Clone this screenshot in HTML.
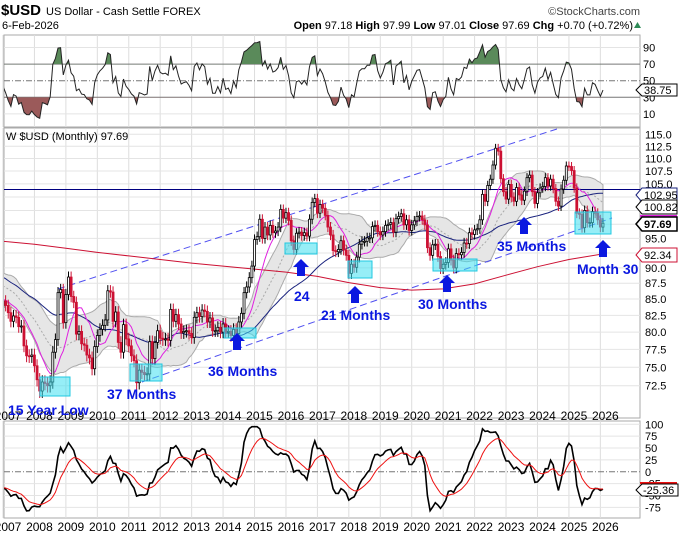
<!DOCTYPE html>
<html><head><meta charset="utf-8">
<style>
html,body{margin:0;padding:0;background:#fff;}
body{width:681px;height:548px;overflow:hidden;font-family:"Liberation Sans",sans-serif;}
svg{display:block;}
</style></head>
<body>
<svg id="chart" width="681" height="548" xmlns="http://www.w3.org/2000/svg" font-family="Liberation Sans, sans-serif"></svg>
<script>
// ---- data (monthly closes) ----
const history = [96.5,96.0,97.6,96.2,94.0,94.5,95.3,98.5,93.5,92.0,91.0,86.9,
87.4,88.9,88.8,91.2,89.0,88.8,89.9,89.0,87.5,84.7,81.0,80.9,
83.5,82.5,84.3,84.4,88.0,89.1,88.0,86.8,88.3,89.4,91.5,90.3,
89.6,89.7,89.2,85.7,85.2,85.4,85.2,85.4,85.7,85.4,83.4,83.7];
const closes = [84.7,84.0,82.9,81.6,82.4,82.2,80.8,80.9,78.0,76.6,76.5,76.7,
75.2,73.3,71.8,73.0,72.8,72.5,73.0,77.1,78.9,86.0,86.5,81.4,
85.7,88.5,85.4,84.5,79.7,80.1,78.3,78.1,76.7,76.3,74.8,77.9,
79.5,80.4,81.0,81.8,86.3,86.1,81.6,83.0,78.5,77.1,81.1,79.0,
78.0,76.6,75.9,72.9,74.6,74.3,74.0,74.1,78.6,76.2,78.5,80.2,
79.1,78.9,79.0,78.8,83.4,81.6,82.6,81.2,79.9,80.1,80.2,79.8,
79.2,82.2,82.9,82.3,83.3,83.1,81.5,82.1,80.2,80.2,80.7,80.0,
81.2,80.0,80.1,79.5,80.4,79.8,81.5,82.8,86.0,86.9,88.4,90.3,
94.8,95.3,98.4,95.0,97.0,95.6,97.3,96.0,96.3,97.0,100.2,98.6,
99.6,98.2,94.6,93.1,95.9,96.1,95.5,96.0,95.4,98.4,101.5,102.2,
99.5,101.1,100.4,99.1,97.0,95.6,92.9,92.7,93.1,94.6,93.0,92.1,
89.1,90.6,90.1,91.8,94.0,94.5,94.5,95.1,95.1,97.1,97.3,96.2,
95.6,96.2,97.3,97.5,97.8,96.1,98.5,98.9,99.4,97.4,98.3,96.4,
97.4,98.1,98.9,99.0,98.3,97.4,93.4,92.1,93.9,94.0,91.9,89.9,
90.6,90.9,93.2,91.3,90.0,92.4,92.2,92.6,94.2,94.1,96.0,95.7,
96.5,96.7,98.3,103.0,101.7,104.7,105.9,108.7,112.1,111.5,106.0,103.5,
102.1,104.9,102.5,101.7,104.3,102.9,101.9,103.6,106.2,106.7,103.5,101.3,
103.3,104.2,104.5,106.2,104.6,105.9,104.1,101.7,100.8,104.0,105.7,108.5,
108.4,107.6,104.2,99.5,99.3,96.9,100.0,97.8,97.8,99.8,99.5,98.3,
97.0,97.69];
const redMaYears = [2007,2008,2009,2010,2011,2012,2013,2014,2015,2016,2017,2018,2019,2020,2021,2022,2023,2024,2025,2026];
const redMaValues = [94.5,94,93.3,92.6,92,91.4,90.8,90.3,89.8,89.3,88.6,87.6,86.8,86.4,86.6,87.4,88.8,90.2,91.4,92.34];
const priceTicks = [115.0,112.5,110.0,107.5,105.0,102.5,100.0,97.5,95.0,92.5,90.0,87.5,85.0,82.5,80.0,77.5,75.0,72.5];
const rsiTicks = [90,70,50,30,10];
const oscTicks = [100,75,50,25,0,-25,-50,-75];
const yearLabels = [2007,2008,2009,2010,2011,2012,2013,2014,2015,2016,2017,2018,2019,2020,2021,2022,2023,2024,2025,2026];

const svg = document.getElementById('chart');
const NS = 'http://www.w3.org/2000/svg';
function mk(tag, attrs, parent){const e=document.createElementNS(NS,tag);for(const k in attrs)e.setAttribute(k,attrs[k]);(parent||svg).appendChild(e);return e;}
function txt(s, attrs, parent){const e=mk('text',attrs,parent);e.textContent=s;return e;}

const L=4, R=640;
const xm = i => 3 + i*2.62;
const yP = p => 134.3 + 545*Math.log(115/p);
const yR = v => 47.5 + (90-v)*0.83;
const yO = v => 424.3 + (100-v)*0.475;

const all = history.concat(closes);
const H = history.length;
function sma(n, idx){let s=0,c=0;for(let k=Math.max(0,idx-n+1);k<=idx;k++){s+=all[k];c++;}return s/c;}
function sd(n, idx){const m=sma(n,idx);let s=0,c=0;for(let k=Math.max(0,idx-n+1);k<=idx;k++){s+=(all[k]-m)**2;c++;}return Math.sqrt(s/c);}

const defs = mk('defs',{});
const c1=mk('clipPath',{id:'cp1'},defs); mk('rect',{x:L,y:35,width:R-L,height:92},c1);
const c2=mk('clipPath',{id:'cp2'},defs); mk('rect',{x:L,y:128,width:R-L,height:290},c2);
const c3=mk('clipPath',{id:'cp3'},defs); mk('rect',{x:L,y:421,width:R-L,height:97},c3);

// header
txt('$USD',{x:1,y:15,'font-size':15,'font-weight':'bold'});
txt('US Dollar - Cash Settle  FOREX',{x:46,y:15,'font-size':11});
txt('6-Feb-2026',{x:2,y:29,'font-size':11});
const ohlc=txt('',{x:633,y:29,'font-size':11,'text-anchor':'end'});

ohlc.innerHTML='<tspan font-weight="bold">Open</tspan> 97.18  <tspan font-weight="bold">High</tspan> 97.99  <tspan font-weight="bold">Low</tspan> 97.01  <tspan font-weight="bold">Close</tspan> 97.69  <tspan font-weight="bold">Chg</tspan> +0.70 (+0.72%)';
mk('polygon',{points:'634,28 641,28 637.5,22',fill:'#2e8b57'});
txt('©StockCharts.com',{x:640,y:15,'font-size':11,'text-anchor':'end',fill:'#444'});

[[35,92],[128,290],[421,97]].forEach(([y,h],j)=>{const r=mk('rect',{x:L,y:y,width:R-L,height:h,fill:'#fff',stroke:'#aaa'});});

yearLabels.forEach((yr,k)=>{const x=xm(k*12);
  [[35,127],[128,418],[421,518]].forEach(([a,b])=>mk('line',{x1:x,x2:x,y1:a,y2:b,stroke:'#ddd'}));
  const t1=txt(String(yr),{x:x+5,y:420,'font-size':12,'text-anchor':'middle'});
  
  const t2=txt(String(yr),{x:x+5,y:531,'font-size':12,'text-anchor':'middle'});
  
});

// ---- RSI ----
const gR=mk('g',{'clip-path':'url(#cp1)'});
rsiTicks.forEach(v=>{
  const y=yR(v);
  if(v===70||v===30) mk('line',{x1:L,x2:R,y1:y,y2:y,stroke:'#777'},gR);
  else if(v===50) mk('line',{x1:L,x2:R,y1:y,y2:y,stroke:'#777','stroke-dasharray':'6,2,1,2'},gR);
  else mk('line',{x1:L,x2:R,y1:y,y2:y,stroke:'#e4e4e4'},gR);
  const t=txt(String(v),{x:643,y:y+4,'font-size':11});
  
});
const N=5; const rsi=[];
{let ag=0,al=0;for(let k=1;k<all.length;k++){const d=all[k]-all[k-1];const g=Math.max(d,0),l=Math.max(-d,0);
  if(k<=N){ag+=g/N;al+=l/N;}else{ag=(ag*(N-1)+g)/N;al=(al*(N-1)+l)/N;}
  if(k>=H) rsi.push(al===0?100:100-100/(1+ag/al));}}
let rp=rsi.map((v,i)=>[xm(i),yR(v)]);
const rline='M'+rp.map(p=>p[0].toFixed(1)+','+p[1].toFixed(1)).join('L');
const cpa=mk('clipPath',{id:'ob'},defs); mk('rect',{x:L,y:0,width:R-L,height:yR(70)},cpa);
const cpb=mk('clipPath',{id:'os'},defs); mk('rect',{x:L,y:yR(30),width:R-L,height:100},cpb);
const fa=mk('path',{d:rline+`L${rp[rp.length-1][0]},${yR(70)}L${rp[0][0]},${yR(70)}Z`,fill:'#5a8a5a','clip-path':'url(#ob)'},gR);

const fb=mk('path',{d:rline+`L${rp[rp.length-1][0]},${yR(30)}L${rp[0][0]},${yR(30)}Z`,fill:'#9b5a5a','clip-path':'url(#os)'},gR);

const rl=mk('path',{d:rline,fill:'none',stroke:'#222','stroke-width':1},gR);

const rv=rsi[rsi.length-1];
mk('path',{d:`M636,${yR(38.75)}l6,-6h35v12h-35z`,fill:'#fff',stroke:'#000'});
txt('38.75',{x:644,y:yR(38.75)+4,'font-size':11});

// ---- Price ----
const gP=mk('g',{'clip-path':'url(#cp2)'});
priceTicks.forEach(v=>{const y=yP(v);mk('line',{x1:L,x2:R,y1:y,y2:y,stroke:'#e4e4e4'},gP);
  const t=txt(v.toFixed(1),{x:645,y:y+4,'font-size':11});});
let up=[],lo=[],mid=[];
closes.forEach((c,i)=>{const idx=H+i;const m=sma(20,idx),s=Math.min(sd(20,idx)*0.9,m*0.045);up.push([xm(i),yP(m+s)]);lo.push([xm(i),yP(m-s)]);mid.push([xm(i),yP(m)]);});
const bb=mk('path',{d:'M'+up.map(p=>p.join(',')).join('L')+'L'+lo.slice().reverse().map(p=>p.join(',')).join('L')+'Z',fill:'#e6e6e6',stroke:'#aaa','stroke-width':1},gP);

mk('path',{d:'M'+mid.map(p=>p.join(',')).join('L'),fill:'none',stroke:'#aaa','stroke-dasharray':'2,2'},gP);
const hl=mk('line',{x1:L,x2:R,y1:189.5,y2:189.5,stroke:'#000080','stroke-width':1},gP);

mk('line',{x1:58,y1:289,x2:560,y2:128,stroke:'#5050f0','stroke-dasharray':'7,4'},gP);
mk('line',{x1:142,y1:382,x2:612,y2:218,stroke:'#5050f0','stroke-dasharray':'7,4'},gP);
const red=mk('path',{d:'M'+redMaYears.map((yr,k)=>xm((yr-2007)*12+(k===redMaYears.length-1?1:0)).toFixed(1)+','+yP(redMaValues[k]).toFixed(1)).join('L'),fill:'none',stroke:'#cc1133','stroke-width':1},gP);

const blue=mk('path',{d:'M'+closes.map((c,i)=>xm(i).toFixed(1)+','+yP(sma(48,H+i)).toFixed(1)).join('L'),fill:'none',stroke:'#1a237e','stroke-width':1},gP);

const mag=mk('path',{d:'M'+closes.map((c,i)=>xm(i).toFixed(1)+','+yP(sma(10,H+i)).toFixed(1)).join('L'),fill:'none',stroke:'#e020e0','stroke-width':1},gP);

closes.forEach((c,i)=>{const o=all[H+i-1];const hi=Math.max(o,c)+0.9,lw=Math.min(o,c)-0.9;
  const x=xm(i);const col=c>=o?'#000':'#cc1133';
  const w=mk('line',{x1:x,x2:x,y1:yP(hi),y2:yP(lw),stroke:col},gP);
  
  const b=mk('rect',{x:x-1,y:yP(Math.max(o,c)),width:2,height:Math.max(1,yP(Math.min(o,c))-yP(Math.max(o,c))),fill:c>=o?'#fff':col,stroke:col,'stroke-width':0.8},gP);
  
});
txt('W $USD (Monthly) 97.69',{x:6,y:140,'font-size':11});

const boxes=[[40,377,30,19],[130,364,32,17],[224,328,32,10],[285,243,32,11],[348,261,24,17],[433,259,44,12],[575,212,36,22]];
boxes.forEach(b=>{const r=mk('rect',{x:b[0],y:b[1],width:b[2],height:b[3],fill:'#40e0f0','fill-opacity':0.55,stroke:'#20c8e0'});});
const arrows=[[237,333],[301,259],[355,286],[447,275],[524,217],[603,240]];
arrows.forEach(a=>{const p=mk('polygon',{points:`${a[0]},${a[1]} ${a[0]+8},${a[1]+8} ${a[0]+4},${a[1]+8} ${a[0]+4},${a[1]+17} ${a[0]-4},${a[1]+17} ${a[0]-4},${a[1]+8} ${a[0]-8},${a[1]+8}`,fill:'#0b18e0'});});
const labels=[['15 Year Low',8,415],['37 Months',107,399],['36 Months',208,376],['24',294,301],['21 Months',321,320],['30 Months',418,309],['35 Months',497,251],['Month 30',577,274]];
labels.forEach(l=>{const t=txt(l[0],{x:l[1],y:l[2],'font-size':14,'font-weight':'bold',fill:'#0b18e0'});});

function tag(v,y,border,bold){mk('path',{d:`M636,${y}l6,-7h35v14h-35z`,fill:'#fff',stroke:border,'stroke-width':bold?1.5:1});
  const t=txt(v,{x:644,y:y+4,'font-size':11,'font-weight':bold?'bold':'normal'});}
tag('102.95',195,'#1a237e');
tag('100.82',207,'#000');
mk('line',{x1:640,x2:677,y1:216,y2:216,stroke:'#e020e0','stroke-width':2});
tag('97.69',224,'#000',true);
tag('92.34',255,'#cc1133');

// ---- Oscillator ----
const gO=mk('g',{'clip-path':'url(#cp3)'});
oscTicks.forEach(v=>{const y=yO(v);
  if(v===0) mk('line',{x1:L,x2:R,y1:y,y2:y,stroke:'#777','stroke-dasharray':'6,2,1,2'},gO);
  else mk('line',{x1:L,x2:R,y1:y,y2:y,stroke:'#e4e4e4'},gO);
  const t=txt(String(v),{x:645,y:y+4,'font-size':11});});
const raw=closes.map((c,i)=>{const idx=H+i;const m=sma(20,idx);let md=0;for(let k=idx-19;k<=idx;k++)md+=Math.abs(all[k]-m);md/=20;return (c-m)/(0.015*md)*0.45;});
let osc=[];raw.forEach((v,i)=>{osc.push(i===0?v:osc[i-1]+(v-osc[i-1])*0.5);});
osc=osc.map(v=>Math.max(-85,Math.min(95,v)));
let sig=[];osc.forEach((v,i)=>{sig.push(i===0?v:sig[i-1]+(v-sig[i-1])*0.2);});
const ol=mk('path',{d:'M'+osc.map((v,i)=>xm(i).toFixed(1)+','+yO(v).toFixed(1)).join('L'),fill:'none',stroke:'#000','stroke-width':1.6},gO);

const sl=mk('path',{d:'M'+sig.map((v,i)=>xm(i).toFixed(1)+','+yO(v).toFixed(1)).join('L'),fill:'none',stroke:'#ee1111','stroke-width':1},gO);

mk('line',{x1:640,x2:677,y1:483,y2:483,stroke:'#ee1111','stroke-width':2});
mk('path',{d:'M636,490l6,-6h36v12h-36z',fill:'#fff',stroke:'#000'});
txt('-25.36',{x:643,y:494,'font-size':11});
</script>
</body></html>
